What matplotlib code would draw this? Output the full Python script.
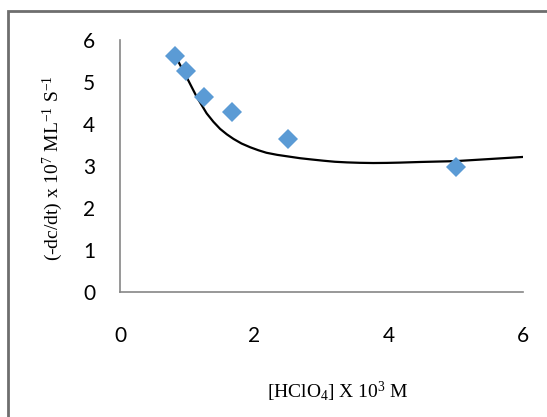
import numpy as np
import matplotlib
matplotlib.use("Agg")
import matplotlib.pyplot as plt
from matplotlib.patches import Rectangle

# Data
hclo4 = [0.82, 0.99, 1.25, 1.67, 2.5, 5.0]
rate = [5.63, 5.25, 4.64, 4.28, 3.63, 2.97]
# Trendline
trend_x = [0.83, 0.99, 1.14, 1.29, 1.39, 1.49, 1.59, 1.69, 1.81, 1.94, 2.06,
           2.18, 2.34, 2.51, 2.68, 2.85, 3.03, 3.20, 3.38, 3.57, 3.77, 3.97,
           4.17, 4.47, 4.99, 5.50, 6.0]
trend_y = [5.60, 5.12, 4.65, 4.25, 4.05, 3.88, 3.75, 3.64, 3.53, 3.44, 3.37,
           3.31, 3.26, 3.22, 3.18, 3.15, 3.12, 3.095, 3.08, 3.07, 3.065, 3.068,
           3.075, 3.09, 3.11, 3.16, 3.21]
x_ticks = [0, 2, 4, 6]
y_ticks = [0, 1, 2, 3, 4, 5, 6]

plt.rcParams['mathtext.fontset'] = 'custom'
plt.rcParams['mathtext.rm'] = 'Liberation Serif'
plt.rcParams['mathtext.it'] = 'Liberation Serif:italic'
plt.rcParams['mathtext.default'] = 'rm'

fig = plt.figure(figsize=(5.47, 4.17), dpi=100)
fig.patches.append(Rectangle((8/547, -0.1), 1.2, 1.1 - 11/417,
                             transform=fig.transFigure, fill=False,
                             edgecolor='#6e6e6e', linewidth=2.0))
ax = fig.add_axes([120/547, 1 - 291.5/417, 403/547, 251.5/417])

ax.plot(trend_x, trend_y, color='black', linewidth=1.6, zorder=2,
        solid_joinstyle='round')
ax.plot(hclo4, rate, linestyle='none', marker='D', markersize=10,
        color='#5B9BD5', markeredgewidth=0, zorder=3)

ax.set_xlim(0, 6)
ax.set_ylim(0, 6)
ax.set_xticks(x_ticks)
ax.set_yticks(y_ticks)
for s in ['top', 'right']:
    ax.spines[s].set_visible(False)
for s in ['left', 'bottom']:
    ax.spines[s].set_color('#868686')
    ax.spines[s].set_linewidth(1.2)
ax.tick_params(length=0, labelsize=15, colors='black')
ax.tick_params(axis='x', pad=25)
ax.tick_params(axis='y', pad=18)
for lab in ax.get_xticklabels() + ax.get_yticklabels():
    lab.set_family('Lato')

fig.text(338/547, 1 - 392/417, r"[HClO$_4$] X 10$^3$ M", ha='center', va='center',
         family='Liberation Serif', fontsize=14)
fig.text(53/547, 1 - 168/417, r"(-dc/dt) x 10$^7$ ML$^{-1}$ S$^{-1}$", ha='center',
         va='center', rotation=90, family='Liberation Serif', fontsize=14)

fig.savefig('out.png', dpi=100)
